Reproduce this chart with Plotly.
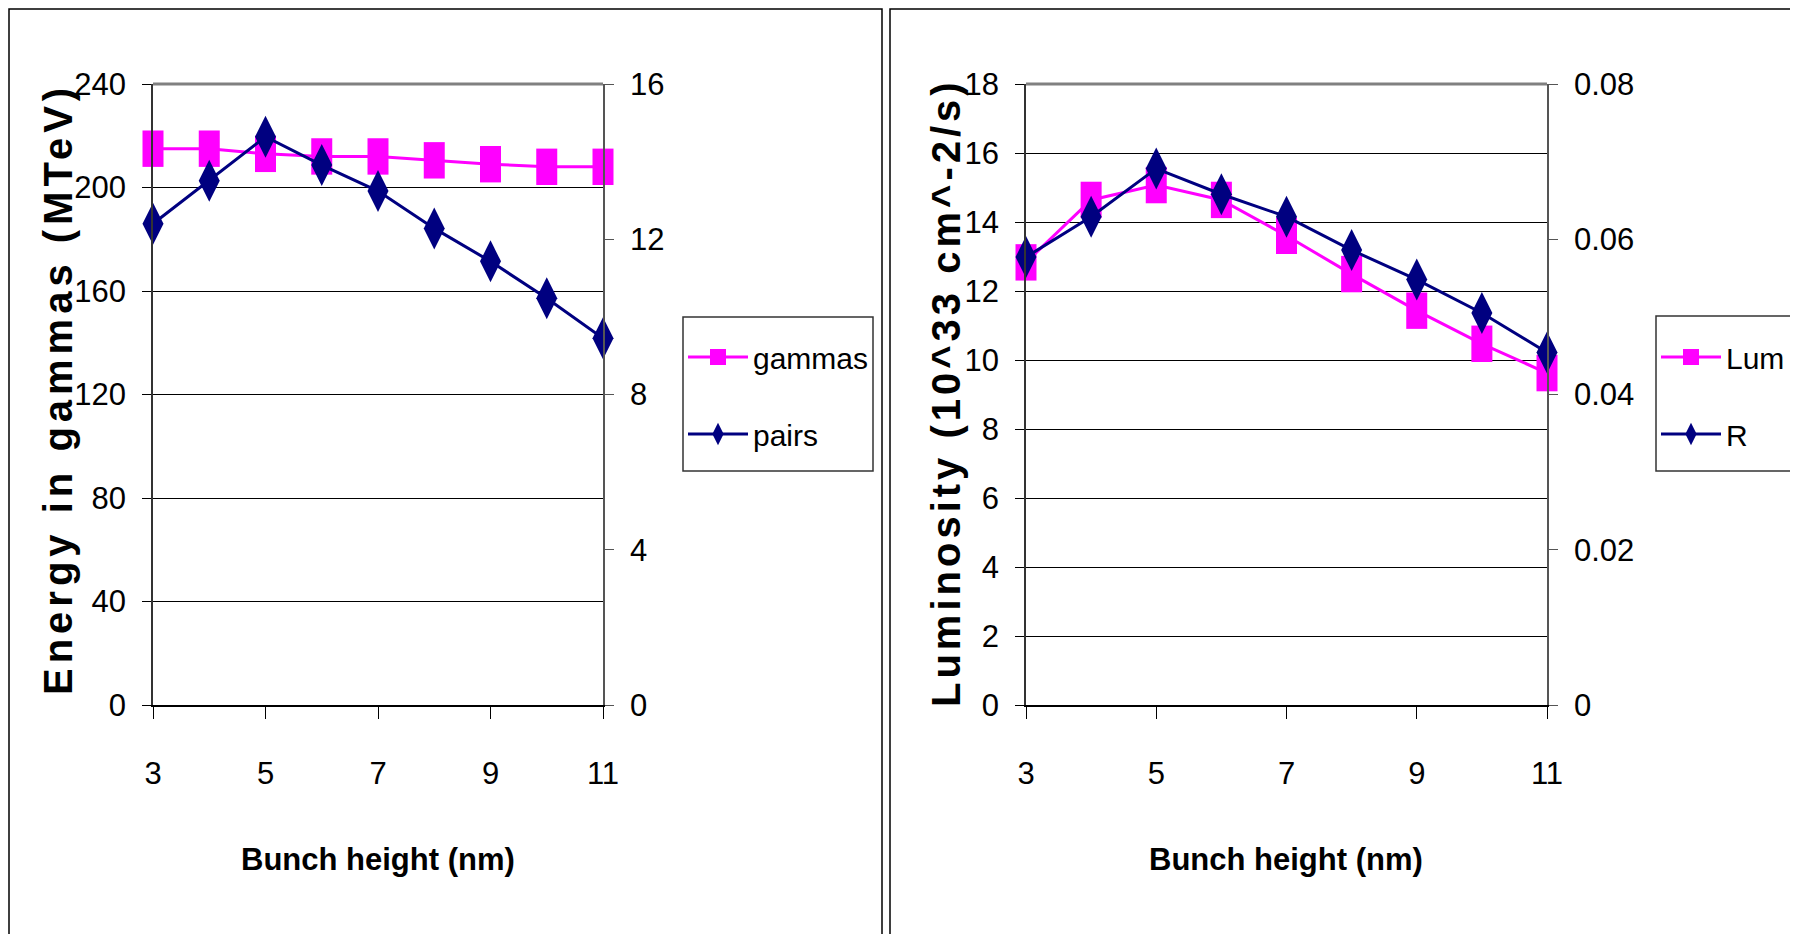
import plotly.graph_objects as go

# ---------------- data ----------------
bunch_height = [3, 4, 5, 6, 7, 8, 9, 10, 11]
gammas = [215, 215, 213, 212, 212, 210.5, 209, 208, 208]                 # left axis
pairs = [12.40, 13.51, 14.64, 13.91, 13.24, 12.28, 11.43, 10.48, 9.45]    # right axis
lum = [12.83, 14.64, 15.07, 14.64, 13.6, 12.49, 11.43, 10.47, 9.62]       # left axis
r_ratio = [0.0577, 0.0629, 0.0691, 0.0658, 0.0629, 0.0586, 0.0548, 0.0505, 0.0454]

x_ticks = [3, 5, 7, 9, 11]
left_y1_ticks = [0, 40, 80, 120, 160, 200, 240]
left_y2_ticks = [0, 4, 8, 12, 16]
right_y1_ticks = [0, 2, 4, 6, 8, 10, 12, 14, 16, 18]
right_y2_ticks = [0, 0.02, 0.04, 0.06, 0.08]
right_y2_labels = ["0", "0.02", "0.04", "0.06", "0.08"]

x_title = "Bunch height (nm)"
left_y_title = "Energy in gammas (MTeV)"
right_y_title = "Luminosity (10^33 cm^-2/s)"

MAGENTA = "#FF00FF"
NAVY = "#000080"
FONT = "Liberation Sans, Arial, sans-serif"

# the page has an 8 px body margin: the figure starts at page pixel (8, 8)
OFF = 8
W, H = 1798 - 2 * OFF, 942 - 2 * OFF


def px_x(p):
    return (p - OFF) / W


def px_y(p):
    return 1 - (p - OFF) / H


fig = go.Figure()

# ---------------- left chart ----------------
fig.add_trace(go.Scatter(
    x=bunch_height, y=gammas, mode="lines+markers", name="gammas",
    line=dict(color=MAGENTA, width=3),
    marker=dict(symbol="line-ns", size=26, line=dict(color=MAGENTA, width=21)),
    xaxis="x", yaxis="y", cliponaxis=False, showlegend=False))
fig.add_trace(go.Scatter(
    x=[None], y=[None], mode="lines+markers", name="gammas",
    line=dict(color=MAGENTA, width=3),
    marker=dict(symbol="square", size=16, color=MAGENTA),
    xaxis="x", yaxis="y", legend="legend", legendgroup="g1"))
fig.add_trace(go.Scatter(
    x=bunch_height, y=pairs, mode="lines+markers", name="pairs",
    line=dict(color=NAVY, width=3),
    marker=dict(symbol="diamond-tall", size=30, color=NAVY),
    xaxis="x", yaxis="y2", cliponaxis=False, legend="legend", legendgroup="g2"))

# ---------------- right chart ----------------
fig.add_trace(go.Scatter(
    x=bunch_height, y=lum, mode="lines+markers", name="Lum",
    line=dict(color=MAGENTA, width=3),
    marker=dict(symbol="line-ns", size=26, line=dict(color=MAGENTA, width=21)),
    xaxis="x2", yaxis="y3", cliponaxis=False, showlegend=False))
fig.add_trace(go.Scatter(
    x=[None], y=[None], mode="lines+markers", name="Lum",
    line=dict(color=MAGENTA, width=3),
    marker=dict(symbol="square", size=16, color=MAGENTA),
    xaxis="x2", yaxis="y3", legend="legend2", legendgroup="g3"))
fig.add_trace(go.Scatter(
    x=bunch_height, y=r_ratio, mode="lines+markers", name="R",
    line=dict(color=NAVY, width=3),
    marker=dict(symbol="diamond-tall", size=30, color=NAVY),
    xaxis="x2", yaxis="y4", cliponaxis=False, legend="legend2", legendgroup="g4"))

tickfont = dict(family=FONT, size=31, color="black")

xcommon = dict(range=[3, 11], tickmode="array", tickvals=x_ticks,
               ticktext=[str(v) for v in x_ticks],
               ticks="outside", ticklen=12, tickcolor="black", tickwidth=1,
               showline=True, linecolor="black", linewidth=2,
               showgrid=False, zeroline=False, tickfont=tickfont,
               ticklabelstandoff=28)

ycommon_left = dict(showgrid=True, gridcolor="black", gridwidth=1,
                    ticks="outside", ticklen=9, tickcolor="black",
                    showline=True, linecolor="#333333", linewidth=1.5,
                    zeroline=False, tickfont=tickfont, ticklabelstandoff=10)
ycommon_right = dict(showgrid=False, ticks="outside", ticklen=9, tickcolor="#555555",
                     showline=True, linecolor="#555555", linewidth=1.5,
                     zeroline=False, tickfont=tickfont, ticklabelstandoff=10)

legend_common = dict(xanchor="left", yanchor="top",
                     bgcolor="rgba(0,0,0,0)", borderwidth=0,
                     font=dict(family=FONT, size=30, color="black"),
                     itemwidth=60, tracegroupgap=35, traceorder="grouped")

fig.update_layout(
    width=W, height=H,
    margin=dict(l=0, r=0, t=0, b=0, autoexpand=False),
    paper_bgcolor="white", plot_bgcolor="white",
    xaxis=dict(domain=[px_x(153), px_x(603)], anchor="y", **xcommon),
    yaxis=dict(domain=[px_y(705), px_y(84)], anchor="x", range=[0, 240],
               tickmode="array", tickvals=left_y1_ticks, **ycommon_left),
    yaxis2=dict(overlaying="y", side="right", anchor="x", range=[0, 16],
                tickmode="array", tickvals=left_y2_ticks, **ycommon_right),
    xaxis2=dict(domain=[px_x(1026), px_x(1547)], anchor="y3", **xcommon),
    yaxis3=dict(domain=[px_y(705), px_y(84)], anchor="x2", range=[0, 18],
                tickmode="array", tickvals=right_y1_ticks, **ycommon_left),
    yaxis4=dict(overlaying="y3", side="right", anchor="x2", range=[0, 0.08],
                tickmode="array", tickvals=right_y2_ticks, ticktext=right_y2_labels,
                **ycommon_right),
    legend=dict(x=px_x(683), y=px_y(331), **legend_common),
    legend2=dict(x=px_x(1656), y=px_y(331), **legend_common),
    showlegend=True,
)

# top border of the plot areas (gray)
for xr, yr in (("x domain", "y domain"), ("x2 domain", "y3 domain")):
    fig.add_shape(type="line", xref=xr, yref=yr, x0=0, x1=1, y0=1, y1=1,
                  line=dict(color="#808080", width=3), layer="above")

# panel frames and legend frames
fig.add_shape(type="rect", xref="paper", yref="paper",
              x0=px_x(9), x1=px_x(882), y0=-0.05, y1=px_y(9),
              line=dict(color="black", width=1.5), layer="below")
fig.add_shape(type="rect", xref="paper", yref="paper",
              x0=px_x(890), x1=1.05, y0=-0.05, y1=px_y(9),
              line=dict(color="black", width=1.5), layer="below")
fig.add_shape(type="rect", xref="paper", yref="paper",
              x0=px_x(683), x1=px_x(873), y0=px_y(471), y1=px_y(317),
              line=dict(color="#333333", width=1.5), layer="below")
fig.add_shape(type="rect", xref="paper", yref="paper",
              x0=px_x(1656), x1=1.05, y0=px_y(471), y1=px_y(316),
              line=dict(color="#333333", width=1.5), layer="below")

# axis titles
bold_x = dict(family=FONT, size=31, color="black", weight="bold")
for cx in (378, 1286):
    fig.add_annotation(text=x_title, xref="paper", yref="paper",
                       x=px_x(cx), y=px_y(859), showarrow=False,
                       xanchor="center", yanchor="middle", font=bold_x)
bold_y = dict(family=FONT, size=40, color="black", weight="bold")
fig.add_annotation(text='<span style="letter-spacing:5px">' + left_y_title + "</span>",
                   xref="paper", yref="paper",
                   x=px_x(58), y=px_y(389), showarrow=False, textangle=-90,
                   xanchor="center", yanchor="middle", font=bold_y)
fig.add_annotation(text='<span style="letter-spacing:4px">' + right_y_title + "</span>",
                   xref="paper", yref="paper",
                   x=px_x(946), y=px_y(393), showarrow=False, textangle=-90,
                   xanchor="center", yanchor="middle", font=bold_y)

fig.write_html("out.html")
